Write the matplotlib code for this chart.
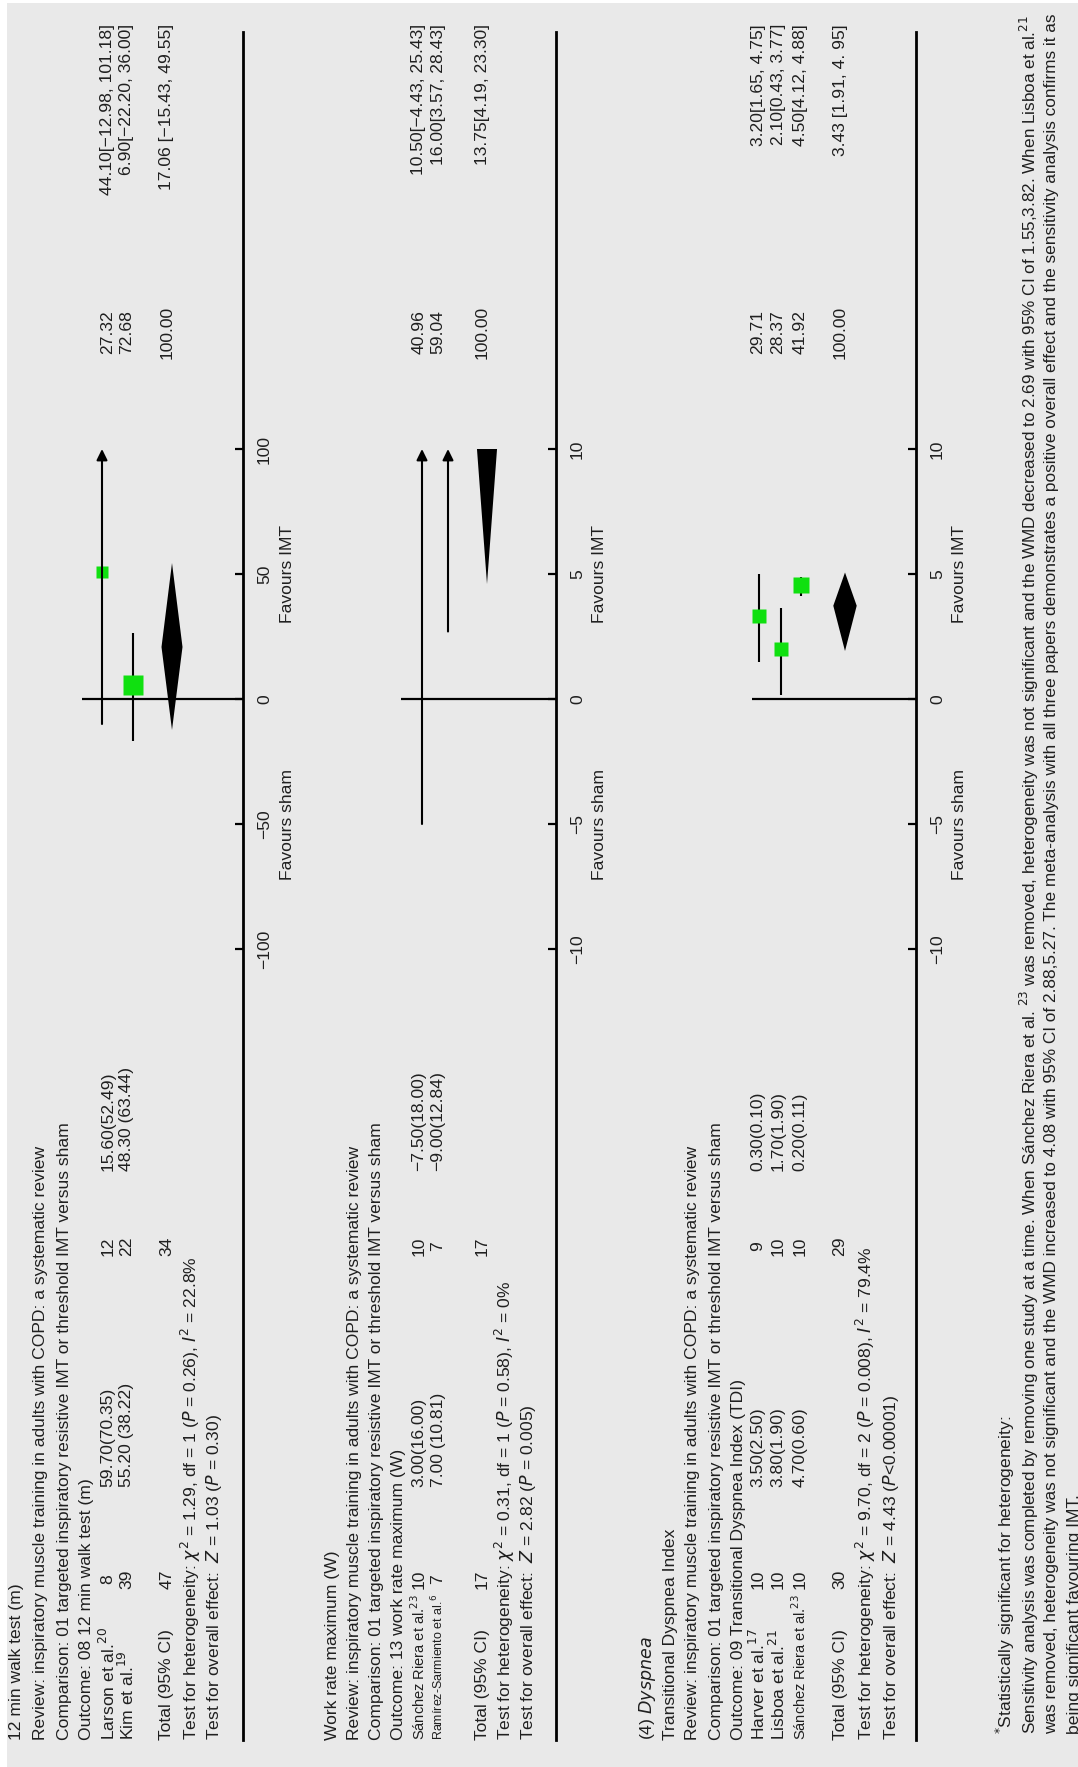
import matplotlib
matplotlib.use('Agg')
import matplotlib.pyplot as plt
from matplotlib.patches import Polygon, Rectangle
import numpy as np

W, H = 1078, 1767
DPI = 100

plt.rcParams['font.family'] = ['Liberation Sans Narrow', 'Liberation Sans', 'DejaVu Sans']
plt.rcParams['mathtext.fontset'] = 'custom'
plt.rcParams['mathtext.rm'] = 'Liberation Sans Narrow'
plt.rcParams['mathtext.it'] = 'Liberation Sans Narrow:italic'
plt.rcParams['mathtext.bf'] = 'Liberation Sans Narrow:bold'

M = '\u2212'
REVIEW = 'Review: inspiratory muscle training in adults with COPD: a systematic review'
COMPARISON = 'Comparison: 01 targeted inspiratory resistive IMT or threshold IMT versus sham'

# ── 12 min walk test ─────────────────────────────────────────────────
walk_header = ['12 min walk test (m)', REVIEW, COMPARISON, 'Outcome: 08 12 min walk test (m)']
walk_names = [r'Larson et al.$^{20}$', r'Kim et al.$^{19}$']
walk_n_imt = [8, 39]
walk_msd_imt = ['59.70(70.35)', '55.20 (38.22)']
walk_n_sham = [12, 22]
walk_msd_sham = ['15.60(52.49)', '48.30 (63.44)']
walk_weight = [27.32, 72.68]
walk_ci_txt = [f'44.10[{M}12.98, 101.18]', f'6.90[{M}22.20, 36.00]']
# positions of the marks as drawn in the figure
walk_mean = [50.8, 5.7]
walk_lo = [-10.0, -16.8]
walk_hi = [101.18, 26.4]
walk_total_n = [47, 34]
walk_total_txt = ['100.00', f'17.06 [{M}15.43, 49.55]']
walk_diamond = [-12.4, 20.8, 54.4]
walk_het = r'Test for heterogeneity: $\chi^2$ = 1.29, df = 1 ($P$ = 0.26), $I^2$ = 22.8%'
walk_overall = r'Test for overall effect:  $Z$ = 1.03 ($P$ = 0.30)'
walk_ticks = [-100, -50, 0, 50, 100]

# ── Work rate maximum ────────────────────────────────────────────────
work_header = ['Work rate maximum (W)', REVIEW, COMPARISON, 'Outcome: 13 work rate maximum (W)']
work_names = [r'Sánchez Riera et al.$^{23}$', r'Ramírez-Sarmiento et al.$^{6}$']
work_n_imt = [10, 7]
work_msd_imt = ['3.00(16.00)', '7.00 (10.81)']
work_n_sham = [10, 7]
work_msd_sham = [f'{M}7.50(18.00)', f'{M}9.00(12.84)']
work_weight = [40.96, 59.04]
work_ci_txt = [f'10.50[{M}4.43, 25.43]', '16.00[3.57, 28.43]']
work_mean = [10.50, 16.00]
work_lo = [-5.0, 2.7]
work_hi = [25.43, 28.43]
work_total_n = [17, 17]
work_total_txt = ['100.00', '13.75[4.19, 23.30]']
work_diamond = [4.6, 13.75, 23.30]
work_het = r'Test for heterogeneity: $\chi^2$ = 0.31, df = 1 ($P$ = 0.58), $I^2$ = 0%'
work_overall = r'Test for overall effect:  $Z$ = 2.82 ($P$ = 0.005)'
work_ticks = [-10, -5, 0, 5, 10]

# ── Dyspnea (TDI) ────────────────────────────────────────────────────
tdi_header = [r'(4) $\mathit{Dyspnea}$', 'Transitional Dyspnea Index', REVIEW, COMPARISON,
              'Outcome: 09 Transitional Dyspnea Index (TDI)']
tdi_names = [r'Harver et al.$^{17}$', r'Lisboa et al.$^{21}$', r'Sánchez Riera et al.$^{23}$']
tdi_n_imt = [10, 10, 10]
tdi_msd_imt = ['3.50(2.50)', '3.80(1.90)', '4.70(0.60)']
tdi_n_sham = [9, 10, 10]
tdi_msd_sham = ['0.30(0.10)', '1.70(1.90)', '0.20(0.11)']
tdi_weight = [29.71, 28.37, 41.92]
tdi_ci_txt = ['3.20[1.65, 4.75]', '2.10[0.43, 3.77]', '4.50[4.12, 4.88]']
tdi_mean = [3.3, 2.0, 4.57]
tdi_lo = [1.48, 0.17, 4.12]
tdi_hi = [4.98, 3.65, 4.88]
tdi_total_n = [30, 29]
tdi_total_txt = ['100.00', '3.43 [1.91, 4. 95]']
tdi_diamond = [1.92, 3.73, 5.06]
tdi_het = r'Test for heterogeneity: $\chi^2$ = 9.70, df = 2 ($P$ = 0.008), $I^2$ = 79.4%'
tdi_overall = r'Test for overall effect:  $Z$ = 4.43 ($P$<0.00001)'
tdi_ticks = [-10, -5, 0, 5, 10]

footnote = [
    r'$^{*}$Statistically significant for heterogeneity:',
    r'Sensitivity analysis was completed by removing one study at a time. When Sánchez Riera et al. $^{23}$ was removed, '
    r'heterogeneity was not significant and the WMD decreased to 2.69 with 95% CI of 1.55,3.82. When Lisboa et al.$^{21}$',
    'was removed, heterogeneity was not significant and the WMD increased to 4.08 with 95% CI of 2.88,5.27. '
    'The meta-analysis with all three papers demonstrates a positive overall effect and the sensitivity analysis confirms it as',
    'being significant favouring IMT.',
]

# ── layout (page pixels; the landscape table is turned 90° on the page) ──
BG = '#e9e9e9'
TXT = '#1f1f1f'
GREEN = '#10e010'
FS = 12.6
ZERO_Y = 699          # page y of the 0 tick
TOP_Y, BOT_Y = 32, 1740
COL_NAME, COL_NIMT, COL_MIMT = 1740, 1579, 1487
COL_NSHAM, COL_MSHAM = 1246, 1171
COL_WT, COL_CI = 332, 24
NAME_MAX = 146        # room left for a study name before the N column
FOOT_MAX = 1716

fig = plt.figure(figsize=(W / DPI, H / DPI), dpi=DPI)
fig.patch.set_facecolor('white')
page = fig.add_axes([0, 0, 1, 1])
page.set_xlim(0, W)
page.set_ylim(H, 0)
page.axis('off')
page.add_patch(Rectangle((7, 3), W, H, facecolor=BG, edgecolor='none'))

fit_list = []   # (text, max length in px)


def put(x, y, s, ha='left', size=FS, fit=None):
    t = page.text(x, y, s, rotation=90, rotation_mode='anchor', ha=ha, va='center',
                  fontsize=size, color=TXT)
    if fit:
        fit_list.append((t, fit))
    return t


def draw_panel(header, names, n_imt, msd_imt, n_sham, msd_sham, weight, ci_txt,
               mean, lo, hi, total_n, total_txt, diamond, het, overall, ticks,
               header_x, row_x, mark_x, total_x, spine, zero_from, hw, sq_k):
    # text part
    for x, s in zip(header_x, header):
        put(x, COL_NAME, s)
    for i, x in enumerate(row_x):
        put(x, COL_NAME, names[i], fit=NAME_MAX)
        put(x, COL_NIMT, str(n_imt[i]), ha='center')
        put(x, COL_MIMT, msd_imt[i])
        put(x, COL_NSHAM, str(n_sham[i]), ha='center')
        put(x, COL_MSHAM, msd_sham[i])
        put(x, COL_WT, f'{weight[i]:.2f}', ha='center')
        put(x, COL_CI, ci_txt[i], ha='right')
    put(total_x[0], COL_NAME, 'Total (95% CI)')
    put(total_x[0], COL_NIMT, str(total_n[0]), ha='center')
    put(total_x[0], COL_NSHAM, str(total_n[1]), ha='center')
    put(total_x[0], COL_WT, total_txt[0], ha='center')
    put(total_x[0], COL_CI, total_txt[1], ha='right')
    put(total_x[1], COL_NAME, het)
    put(total_x[2], COL_NAME, overall)

    # plot part: effect scale runs up the page
    lim = ticks[-1]
    ppu = (ZERO_Y - 449) / lim
    ax = fig.add_axes([0, 1 - BOT_Y / H, spine / W, (BOT_Y - TOP_Y) / H])
    ax.set_xlim(0, spine)
    ax.set_ylim((ZERO_Y - BOT_Y) / ppu, (ZERO_Y - TOP_Y) / ppu)
    ax.patch.set_visible(False)
    for side in ('left', 'top', 'bottom'):
        ax.spines[side].set_visible(False)
    ax.spines['right'].set_linewidth(2.0)
    ax.set_xticks([])
    ax.yaxis.tick_right()
    ax.set_yticks(ticks)
    ax.tick_params(axis='y', direction='in', length=6, width=1.6, pad=10,
                   labelsize=FS, labelcolor=TXT, labelrotation=90)
    for t in ax.get_yticklabels():
        t.set_va('center')
        t.set_ha('left')
    ax.text(spine + 44, ticks[1], 'Favours sham', rotation=90, ha='center', va='center',
            fontsize=FS, color=TXT, clip_on=False)
    ax.text(spine + 44, ticks[3], 'Favours IMT', rotation=90, ha='center', va='center',
            fontsize=FS, color=TXT, clip_on=False)

    ax.plot([zero_from, spine], [0, 0], color='black', lw=1.6, solid_capstyle='butt')
    clip = Rectangle((0, -lim), spine, 2 * lim, transform=ax.transData)

    for i, x in enumerate(mark_x):
        lo_i, hi_i = max(lo[i], -lim), min(hi[i], lim)
        if hi[i] > lim:
            ax.annotate('', xy=(x, lim), xytext=(x, lo_i),
                        arrowprops=dict(arrowstyle='-|>,head_length=0.65,head_width=0.32',
                                        color='black', lw=1.5, shrinkA=0, shrinkB=0,
                                        mutation_scale=10))
        else:
            ax.plot([x, x], [lo_i, hi_i], color='black', lw=1.5, solid_capstyle='butt')
        if -lim <= mean[i] <= lim:
            ax.plot(x, mean[i], 's', color=GREEN, mec='none',
                    ms=sq_k * np.sqrt(weight[i]) * 72 / DPI)

    d_lo, d_mid, d_hi = diamond
    xd = total_x[0] + 5
    poly = Polygon([(xd - hw, d_mid), (xd, d_hi), (xd + hw, d_mid), (xd, d_lo)],
                   closed=True, facecolor='black', edgecolor='none')
    ax.add_patch(poly)
    poly.set_clip_path(clip)
    return ax


draw_panel(walk_header, walk_names, walk_n_imt, walk_msd_imt, walk_n_sham, walk_msd_sham,
           walk_weight, walk_ci_txt, walk_mean, walk_lo, walk_hi, walk_total_n,
           walk_total_txt, walk_diamond, walk_het, walk_overall, walk_ticks,
           header_x=[17, 41, 64, 87], row_x=[108, 127], mark_x=[102, 133],
           total_x=[167, 191, 214], spine=243, zero_from=82, hw=10.5, sq_k=2.35)

draw_panel(work_header, work_names, work_n_imt, work_msd_imt, work_n_sham, work_msd_sham,
           work_weight, work_ci_txt, work_mean, work_lo, work_hi, work_total_n,
           work_total_txt, work_diamond, work_het, work_overall, work_ticks,
           header_x=[333, 354, 376, 398], row_x=[419, 438], mark_x=[422, 448],
           total_x=[482, 505, 528], spine=556, zero_from=401, hw=17, sq_k=2.35)

draw_panel(tdi_header, tdi_names, tdi_n_imt, tdi_msd_imt, tdi_n_sham, tdi_msd_sham,
           tdi_weight, tdi_ci_txt, tdi_mean, tdi_lo, tdi_hi, tdi_total_n,
           tdi_total_txt, tdi_diamond, tdi_het, tdi_overall, tdi_ticks,
           header_x=[648, 670, 693, 716, 738], row_x=[758, 778, 800], mark_x=[759, 781, 801],
           total_x=[840, 866, 891], spine=916, zero_from=752, hw=11.7, sq_k=2.6)

for x, s in zip([1005, 1029, 1052, 1074], footnote):
    put(x, COL_NAME - 6, s, fit=FOOT_MAX)

# shrink texts that would run into the next column / off the page
renderer = fig.canvas.get_renderer()
for t, max_len in fit_list:
    length = t.get_window_extent(renderer).height
    if length > max_len:
        t.set_fontsize(t.get_fontsize() * max_len / length)

fig.savefig('out.png', dpi=DPI, facecolor=fig.get_facecolor())
